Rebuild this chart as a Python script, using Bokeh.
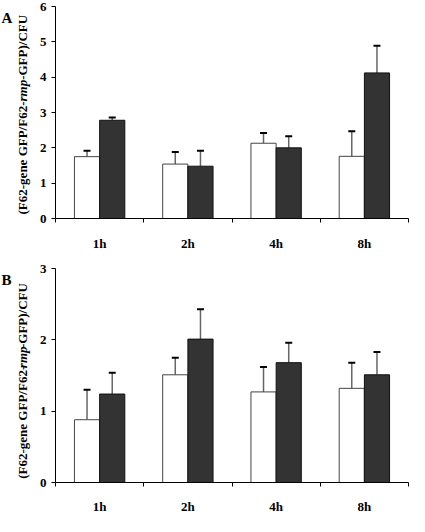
import math
from bokeh.plotting import figure
from bokeh.models import (ColumnDataSource, Range1d, FixedTicker, Whisker, TeeHead)
from bokeh.layouts import column, row
from bokeh.core.properties import value
from bokeh.embed import file_html
from bokeh.resources import INLINE

categories = ["1h", "2h", "4h", "8h"]

a_white = [1.75, 1.54, 2.13, 1.76]
a_white_err = [0.17, 0.34, 0.29, 0.71]
a_dark = [2.78, 1.48, 2.00, 4.12]
a_dark_err = [0.08, 0.44, 0.33, 0.77]

b_white = [0.88, 1.51, 1.27, 1.32]
b_white_err = [0.42, 0.24, 0.35, 0.36]
b_dark = [1.24, 2.01, 1.68, 1.51]
b_dark_err = [0.30, 0.42, 0.28, 0.32]

a_ticks = [0, 1, 2, 3, 4, 5, 6]
b_ticks = [0, 1, 2, 3]

ylabel_parts = ["(F62-gene GFP/F62-", "rmp", "-GFP)/CFU"]
ylabel_styles = ["bold", "bold italic", "bold"]
ylabel_em = [8.693, 1.667, 4.999]  # Times-bold advance widths in em

FONT = "Liberation Serif"
BAR_W = 0.285
OFF = 0.1428
LAB_W = 36


def label_fig(height, border_top, border_bottom, letter, letter_y, ylab_start):
    # frame is aligned with the neighbouring plot's frame; data units = canvas px from bottom
    q = figure(width=LAB_W, height=height, output_backend="svg", toolbar_location=None,
               x_range=Range1d(0, LAB_W), y_range=Range1d(border_bottom, height - border_top),
               x_axis_type=None, y_axis_type=None,
               min_border_left=0, min_border_right=0,
               min_border_top=border_top, min_border_bottom=border_bottom)
    q.outline_line_color = None
    q.xgrid.grid_line_color = None
    q.ygrid.grid_line_color = None
    q.text(x=[1], y=[letter_y], text=[letter], text_font=value(FONT),
           text_font_style=value("bold"), text_font_size=value("15px"),
           text_color="black", text_align="left", text_baseline="alphabetic")
    fs = 13
    yy = ylab_start
    for txt, style, em in zip(ylabel_parts, ylabel_styles, ylabel_em):
        w = em * fs
        q.text(x=[22], y=[yy + w / 2], text=[txt], angle=math.pi / 2, text_font=value(FONT),
               text_font_style=value(style), text_font_size=value(f"{fs}px"),
               text_color="black", text_align="center", text_baseline="middle")
        yy += w
    return q


def make_panel(white, white_err, dark, dark_err, ymax, yticks, height,
               border_top, border_bottom, standoff):
    n = len(categories)
    p = figure(width=409 - LAB_W, height=height, output_backend="svg", toolbar_location=None,
               x_range=Range1d(0, n), y_range=Range1d(0, ymax),
               min_border_left=18, min_border_right=1,
               min_border_top=border_top, min_border_bottom=border_bottom)
    p.outline_line_color = None
    p.xgrid.grid_line_color = None
    p.ygrid.grid_line_color = None

    centers = [i + 0.5 for i in range(n)]
    xw = [c - OFF for c in centers]
    xd = [c + OFF for c in centers]

    sw = ColumnDataSource(dict(x=xw, top=white, up=[v + e for v, e in zip(white, white_err)]))
    sd = ColumnDataSource(dict(x=xd, top=dark, up=[v + e for v, e in zip(dark, dark_err)]))

    for src in (sw, sd):
        p.add_layout(Whisker(source=src, base="x", lower="top", upper="up",
                             dimension="height", line_color="#666666", line_width=1.5,
                             lower_head=None,
                             upper_head=TeeHead(size=7, line_color="black", line_width=2)))

    p.vbar(x="x", top="top", bottom=0, width=BAR_W, source=sw,
           fill_color="white", line_color="#444444", line_width=1)
    p.vbar(x="x", top="top", bottom=0, width=BAR_W, source=sd,
           fill_color="#333333", line_color="#111111", line_width=1)

    xa = p.xaxis[0]
    xa.ticker = FixedTicker(ticks=centers, minor_ticks=list(range(n + 1)))
    xa.major_label_overrides = {c: lab for c, lab in zip(centers, categories)}
    xa.major_tick_line_color = None
    xa.major_tick_in = 0
    xa.major_tick_out = 0
    xa.minor_tick_in = 0
    xa.minor_tick_out = 4
    xa.minor_tick_line_color = "black"
    xa.axis_line_color = "black"
    xa.major_label_standoff = standoff
    xa.major_label_text_font = FONT
    xa.major_label_text_font_style = "bold"
    xa.major_label_text_font_size = "13px"
    xa.major_label_text_color = "black"

    ya = p.yaxis[0]
    ya.ticker = FixedTicker(ticks=yticks, minor_ticks=[])
    ya.major_tick_in = 0
    ya.major_tick_out = 4
    ya.major_tick_line_color = "black"
    ya.axis_line_color = "black"
    ya.major_label_standoff = 5
    ya.major_label_text_font = FONT
    ya.major_label_text_font_style = "bold"
    ya.major_label_text_font_size = "13px"
    ya.major_label_text_color = "black"
    return p


A_H, A_BT, A_BB = 254, 6, 36
B_H, B_BT, B_BB = 262, 14, 26

pa = make_panel(a_white, a_white_err, a_dark, a_dark_err, 6, a_ticks,
                height=A_H, border_top=A_BT, border_bottom=A_BB, standoff=13)
la = label_fig(A_H, A_BT, A_BB, "A", 237, 40)
pb = make_panel(b_white, b_white_err, b_dark, b_dark_err, 3, b_ticks,
                height=B_H, border_top=B_BT, border_bottom=B_BB, standoff=12)
lb = label_fig(B_H, B_BT, B_BB, "B", 236, 32)

layout = column(row(la, pa, spacing=0), row(lb, pb, spacing=0), spacing=0)
open("out.html", "w").write(file_html(layout, INLINE))
